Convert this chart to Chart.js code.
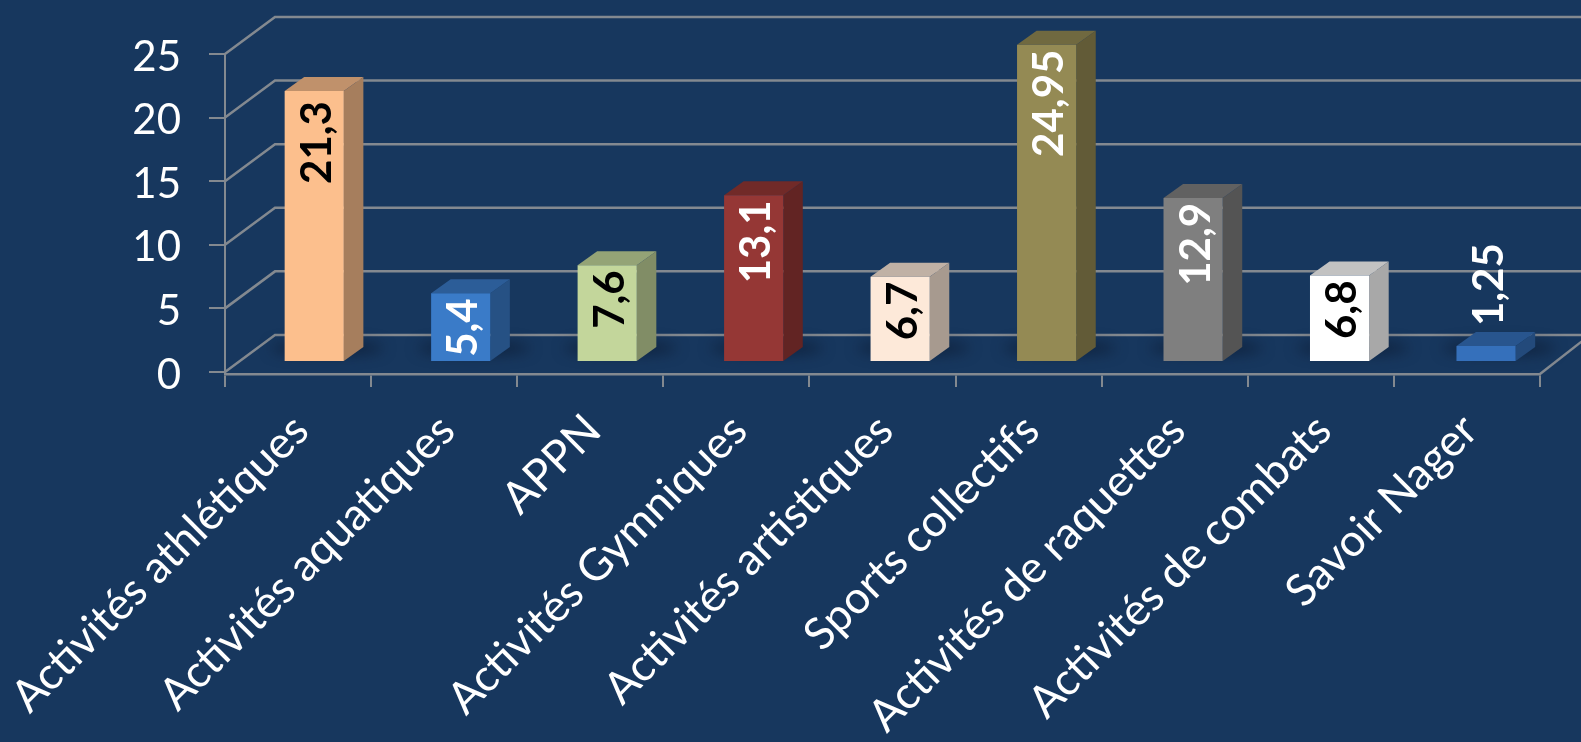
<!DOCTYPE html>
<html>
<head>
<meta charset="utf-8">
<style>
  html, body { margin: 0; padding: 0; background: #17375e; overflow: hidden; }
  canvas { display: block; }
</style>
<script src="https://cdn.jsdelivr.net/npm/chart.js@4/dist/chart.umd.min.js"></script>
</head>
<body>
<canvas id="graph" width="1581" height="742"></canvas>
<script>
const categories = ['Activités athlétiques', 'Activités aquatiques', 'APPN', 'Activités Gymniques',
  'Activités artistiques', 'Sports collectifs', 'Activités de raquettes', 'Activités de combats', 'Savoir Nager'];
const values = [21.3, 5.4, 7.6, 13.1, 6.7, 24.95, 12.9, 6.8, 1.25];
const valueLabels = ['21,3', '5,4', '7,6', '13,1', '6,7', '24,95', '12,9', '6,8', '1,25'];
const barColors = ['#fcbf8d', '#3a7bc8', '#c3d69b', '#953735', '#fde9d9', '#948a54', '#7f7f7f', '#ffffff', '#3570bb'];
const labelColors = ['#000', '#fff', '#000', '#fff', '#000', '#fff', '#fff', '#000', '#fff'];

const gridColor = '#838990';
const wallDepth = { x: 50, y: -37 };   // back wall relative to the front plane
const barShift = { x: 16, y: -10 };    // bars sit part way into the floor
const barDepth = { x: 19.5, y: -14 };
const barSpread = 1.0025;              // bars are a little further apart than the axis ticks

function shade(hex, k) {
  const n = parseInt(hex.slice(1), 16);
  const c = s => Math.round(((n >> s) & 255) * k);
  return `rgb(${c(16)},${c(8)},${c(0)})`;
}

const wallsAndBars = {
  id: 'wallsAndBars',
  beforeDatasetsDraw(chart) {
    const { ctx, scales: { x, y }, chartArea } = chart;
    ctx.save();
    ctx.strokeStyle = gridColor;
    ctx.lineWidth = 2.5;
    // back wall lines and their diagonals
    y.ticks.forEach(t => {
      const py = y.getPixelForValue(t.value);
      ctx.beginPath();
      ctx.moveTo(chartArea.left, py);
      ctx.lineTo(chartArea.left + wallDepth.x, py + wallDepth.y);
      ctx.lineTo(chartArea.right + wallDepth.x, py + wallDepth.y);
      ctx.stroke();
    });
    // right floor edge
    ctx.beginPath();
    ctx.moveTo(chartArea.right, chartArea.bottom);
    ctx.lineTo(chartArea.right + wallDepth.x, y.getPixelForValue(0) + wallDepth.y);
    ctx.stroke();
    ctx.restore();

    const bars = chart.getDatasetMeta(0).data;
    ctx.save();
    ctx.translate(barShift.x + chartArea.left, barShift.y);
    ctx.scale(barSpread, 1);
    ctx.translate(-chartArea.left, 0);
    // floor shadows
    ctx.save();
    ctx.filter = 'blur(7px)';
    ctx.fillStyle = 'rgba(12,26,48,0.7)';
    bars.forEach(b => {
      ctx.beginPath();
      ctx.ellipse(b.x + 13, b.base - 13, 56, 7, 0, 0, Math.PI * 2);
      ctx.fill();
    });
    ctx.restore();
    // side and top faces
    bars.forEach((b, i) => {
      const l = b.x - b.width / 2, r = b.x + b.width / 2;
      ctx.fillStyle = shade(barColors[i], 0.66);
      ctx.beginPath();
      ctx.moveTo(r, b.y);
      ctx.lineTo(r + barDepth.x, b.y + barDepth.y);
      ctx.lineTo(r + barDepth.x, b.base + barDepth.y);
      ctx.lineTo(r, b.base);
      ctx.closePath();
      ctx.fill();
      ctx.fillStyle = shade(barColors[i], 0.76);
      ctx.beginPath();
      ctx.moveTo(l, b.y);
      ctx.lineTo(l + barDepth.x, b.y + barDepth.y);
      ctx.lineTo(r + barDepth.x, b.y + barDepth.y);
      ctx.lineTo(r, b.y);
      ctx.closePath();
      ctx.fill();
    });
  },
  afterDatasetsDraw(chart) {
    const { ctx } = chart;
    // value labels, read bottom to top
    chart.getDatasetMeta(0).data.forEach((b, i) => {
      ctx.save();
      ctx.translate(b.x + 3, values[i] < 2 ? b.y - 20 : b.y + (i === 0 ? 10 : 5));
      ctx.rotate(-Math.PI / 2);
      ctx.font = 'bold 42px Lato';
      ctx.fillStyle = labelColors[i];
      ctx.textAlign = values[i] < 2 ? 'left' : 'right';
      ctx.textBaseline = 'middle';
      ctx.fillText(valueLabels[i], 0, 0);
      ctx.restore();
    });
    ctx.restore();
  }
};

const ctx = document.getElementById('graph').getContext('2d');
const chart = new Chart(ctx, {
  type: 'bar',
  data: {
    labels: categories,
    datasets: [{
      data: values,
      backgroundColor(c) {
        const col = barColors[c.dataIndex];
        if (!c.element || !c.element.base || (c.dataIndex !== 1 && c.dataIndex !== 8)) return col;
        const g = c.chart.ctx.createLinearGradient(0, c.element.y, 0, c.element.base);
        g.addColorStop(0, col);
        g.addColorStop(1, shade(col, 0.75));
        return g;
      },
      barPercentage: 0.404,
      categoryPercentage: 1,
      borderWidth: 0,
      clip: false,
    }]
  },
  options: {
    responsive: false,
    animation: false,
    layout: { padding: { top: 54, right: 41, left: 0, bottom: 0 } },
    plugins: { legend: { display: false }, tooltip: { enabled: false } },
    scales: {
      x: {
        offset: true,
        grid: { display: true, offset: true, drawOnChartArea: false, color: gridColor, lineWidth: 2, tickLength: 13 },
        border: { color: gridColor, width: 2.5 },
        afterFit(s) {
          s.height = 368;
          s.paddingLeft = 0;   // long rotated labels must not push the axis right
          s.paddingRight = 0;
        },
        ticks: {
          autoSkip: false, minRotation: 45, maxRotation: 45, color: '#fff', padding: 17, labelOffset: 3,
          font: { family: 'Lato', size: 44.5 },
        },
      },
      y: {
        min: -0.16,
        max: 25,
        afterFit(s) { s.width = 225; },
        afterBuildTicks(s) {
          s.ticks = [0, 5, 10, 15, 20, 25].map(value => ({ value }));
        },
        grid: { drawOnChartArea: false, color: gridColor, lineWidth: 2, tickLength: 16 },
        border: { color: gridColor, width: 2 },
        ticks: { color: '#fff', padding: 28, labelOffset: 3, font: { family: 'Lato', size: 42 } },
      },
    },
  },
  plugins: [wallsAndBars],
});
</script>
</body>
</html>
